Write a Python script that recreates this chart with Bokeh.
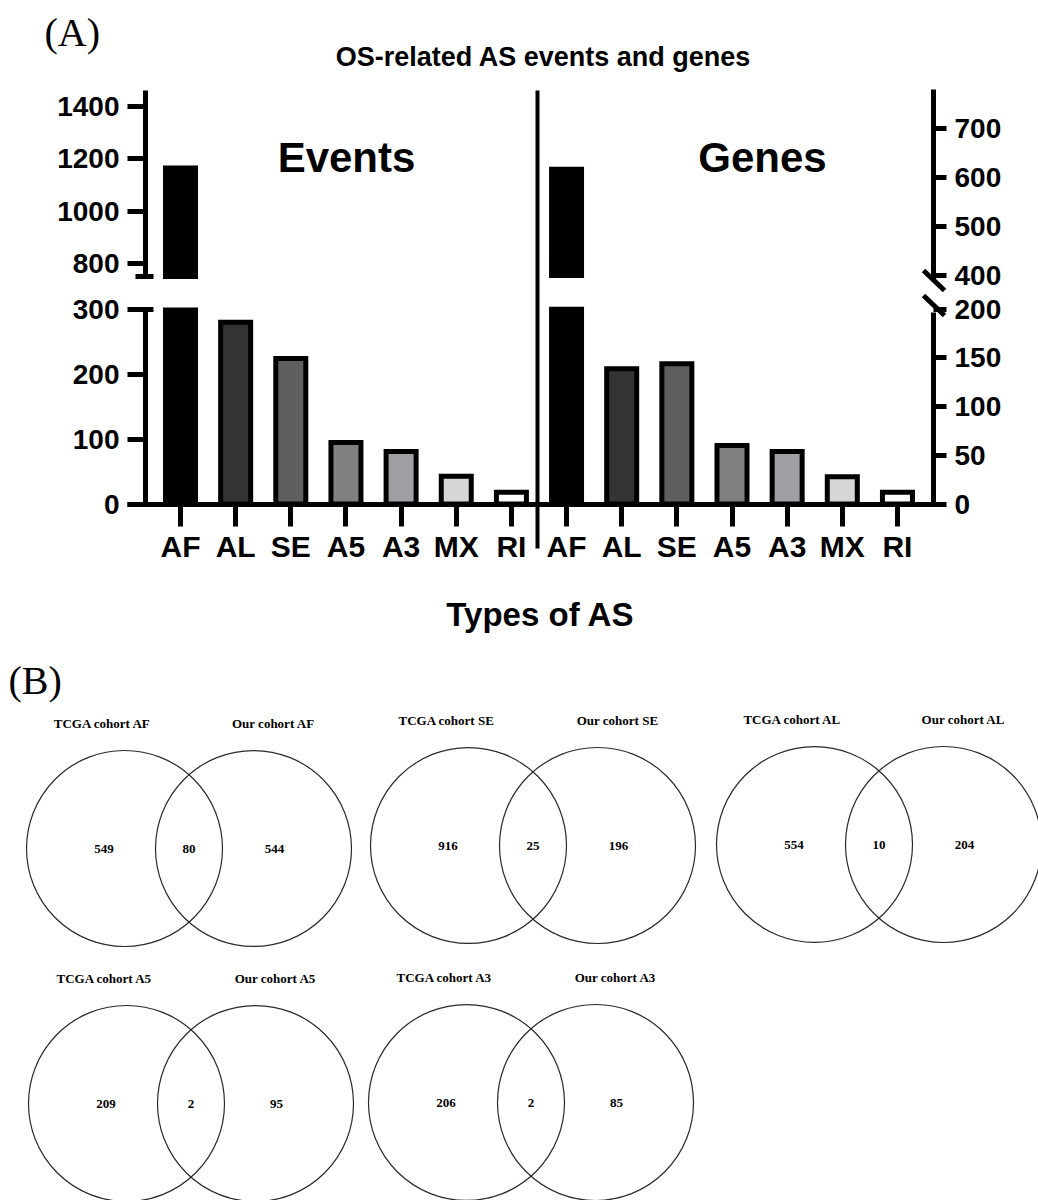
import numpy as np
from bokeh.plotting import figure
from bokeh.models import Range1d, LinearAxis, FixedTicker
from bokeh.core.properties import value
from bokeh.embed import file_html
from bokeh.resources import INLINE

# ---------------- data ----------------
categories = ["AF", "AL", "SE", "A5", "A3", "MX", "RI"]
events = [1165, 281, 225, 95, 81, 43, 18]
genes = [617, 139, 144, 60, 54, 28, 12]
events_break = [300, 750]          # lower segment top, upper segment bottom
genes_break = [200, 400]
events_ticks_low = [0, 100, 200, 300]
events_ticks_up = [800, 1000, 1200, 1400]
genes_ticks_low = [0, 50, 100, 150, 200]
genes_ticks_up = [400, 500, 600, 700]

venn_types = ["AF", "SE", "AL", "A5", "A3"]
tcga_only = [549, 916, 554, 209, 206]
shared = [80, 25, 10, 2, 2]
our_only = [544, 196, 204, 95, 85]

# ---------------- style ----------------
bar_fill = ["#000000", "#333333", "#5f5f5f", "#808080", "#a0a0a4", "#d6d6d6", "#ffffff"]
SANS = "Liberation Sans"
SERIF = "Liberation Serif"

W, H = 1038, 1200
X0, DX = 180.0, 55.15          # pixel centre of first bar, bar spacing


def xv(px):
    return (px - X0) / DX


def yrange(py_ref, v_ref, scale):
    return Range1d(start=v_ref + (py_ref - H) / scale, end=v_ref + py_ref / scale)


def yv(py, py_ref, v_ref, scale):
    return v_ref + (py_ref - py) / scale


EV_LOW = (503.5, 0, 0.6467)
EV_UP = (106, 1400, 0.2617)
GE_LOW = (503.5, 0, 0.9735)
GE_UP = (177, 600, 0.49)

p = figure(width=W, height=H, x_range=Range1d(xv(0), xv(W)), y_range=yrange(*EV_LOW),
           x_axis_type=None, y_axis_type=None, toolbar_location=None,
           output_backend="svg", min_border=0, outline_line_color=None,
           background_fill_color="white", border_fill_color="white")
p.extra_y_ranges = {"ev_up": yrange(*EV_UP), "ge_low": yrange(*GE_LOW),
                    "ge_up": yrange(*GE_UP), "py": Range1d(H, 0)}
p.extra_x_ranges = {"px": Range1d(0, W)}

# ---------------- bars ----------------
n = len(categories)
BW = 30 / DX
ev = np.array(events, dtype=float)
ge = np.array(genes, dtype=float)
x_ev = np.arange(n)
x_ge = np.arange(n) + n
fills = np.array(bar_fill)
bar_kw = dict(width=BW, line_color="black", line_width=5, line_join="miter")

p.vbar(x=x_ev, bottom=0, top=np.minimum(ev, events_break[0]), fill_color=list(fills), **bar_kw)
m = ev > events_break[1]
p.vbar(x=x_ev[m], bottom=events_break[1], top=ev[m], fill_color=list(fills[m]),
       y_range_name="ev_up", **bar_kw)
p.vbar(x=x_ge, bottom=0, top=np.minimum(ge, genes_break[0]), fill_color=list(fills),
       y_range_name="ge_low", **bar_kw)
m2 = ge > genes_break[1]
p.vbar(x=x_ge[m2], bottom=genes_break[1], top=ge[m2], fill_color=list(fills[m2]),
       y_range_name="ge_up", **bar_kw)


# ---------------- axes ----------------
def style(ax, tick_out, fs, standoff):
    ax.axis_line_width = 5
    ax.axis_line_color = "black"
    ax.major_tick_line_width = 5
    ax.minor_tick_line_width = 5
    ax.major_tick_in = 0
    ax.major_tick_out = tick_out
    ax.major_label_text_font = SANS
    ax.major_label_text_font_style = "bold"
    ax.major_label_text_font_size = fs
    ax.major_label_text_color = "black"
    ax.major_label_standoff = standoff
    return ax


ax = style(LinearAxis(y_range_name="ev_up", fixed_location=xv(145),
                      bounds=(events_break[1], yv(90, *EV_UP)),
                      ticker=FixedTicker(ticks=events_ticks_up, minor_ticks=[events_break[1]]),
                      minor_tick_in=8, minor_tick_out=10), 18, "28px", 8)
p.add_layout(ax, "left")
ax = style(LinearAxis(fixed_location=xv(145), bounds=(0, events_break[0]),
                      ticker=FixedTicker(ticks=events_ticks_low, minor_ticks=[events_break[0]]),
                      minor_tick_in=8, minor_tick_out=10), 18, "28px", 8)
p.add_layout(ax, "left")
ax = style(LinearAxis(y_range_name="ge_up", fixed_location=xv(933),
                      bounds=(yv(280, *GE_UP), yv(89, *GE_UP)),
                      ticker=FixedTicker(ticks=genes_ticks_up)), 13, "28px", 8)
p.add_layout(ax, "right")
ax = style(LinearAxis(y_range_name="ge_low", fixed_location=xv(933),
                      bounds=(0, yv(312, *GE_LOW)),
                      ticker=FixedTicker(ticks=genes_ticks_low)), 13, "28px", 8)
p.add_layout(ax, "right")

labels_all = categories + categories
ax = style(LinearAxis(fixed_location=0, bounds=(xv(127), xv(935)),
                      ticker=FixedTicker(ticks=list(range(2 * n))),
                      major_label_overrides={i: c for i, c in enumerate(labels_all)}),
           22, "30px", 4)
p.add_layout(ax, "below")

PX = dict(x_range_name="px", y_range_name="py")

# divider between Events and Genes, right-axis break marks
p.segment(x0=[537], y0=[90], x1=[537], y1=[548], line_color="black", line_width=4, **PX)
p.segment(x0=[923, 923], y0=[270, 295], x1=[944, 944], y1=[290, 315],
          line_color="black", line_width=5, **PX)


def txt(x, y, s, size, font=SANS, bold=True, align="center", color="black"):
    p.text(x=[x], y=[y], text=[s], text_font=value(font), text_font_size=value(size),
           text_font_style="bold" if bold else "normal", text_align=align,
           text_baseline="middle", text_color=color, **PX)


txt(44, 32, "(A)", "40px", font=SERIF, bold=False, align="left")
txt(543, 56, "OS-related AS events and genes", "27px")
txt(346, 157, "Events", "42px")
txt(762, 157, "Genes", "42px")
txt(540, 614, "Types of AS", "33px")
txt(8, 680, "(B)", "40px", font=SERIF, bold=False, align="left")

# ---------------- Venn diagrams ----------------
venn_c1 = [(124, 848), (468, 845), (814, 844), (126, 1103), (466, 1102)]
VDX, R = 129, 98
cx1 = np.array([c[0] for c in venn_c1], dtype=float)
cy = np.array([c[1] for c in venn_c1], dtype=float)
cx2 = cx1 + VDX
p.circle(x=np.concatenate([cx1, cx2]), y=np.concatenate([cy, cy]), radius=R,
         fill_color=None, line_color="#2a2a2a", line_width=1.2, **PX)

num_kw = dict(text_font=value(SERIF), text_font_size=value("13px"), text_font_style="bold",
              text_align="center", text_baseline="middle", text_color="black")
p.text(x=cx1 - 20.5, y=cy, text=[str(v) for v in tcga_only], **num_kw, **PX)
p.text(x=(cx1 + cx2) / 2, y=cy, text=[str(v) for v in shared], **num_kw, **PX)
p.text(x=cx2 + 21, y=cy, text=[str(v) for v in our_only], **num_kw, **PX)

lab_kw = dict(text_font=value(SERIF), text_font_size=value("13px"), text_font_style="bold",
              text_align="center", text_baseline="middle", text_color="black")
p.text(x=cx1 - 22, y=cy - 125, text=["TCGA cohort " + t for t in venn_types], **lab_kw, **PX)
p.text(x=cx2 + 20, y=cy - 125, text=["Our cohort " + t for t in venn_types], **lab_kw, **PX)

open("out.html", "w").write(file_html(p, INLINE))
